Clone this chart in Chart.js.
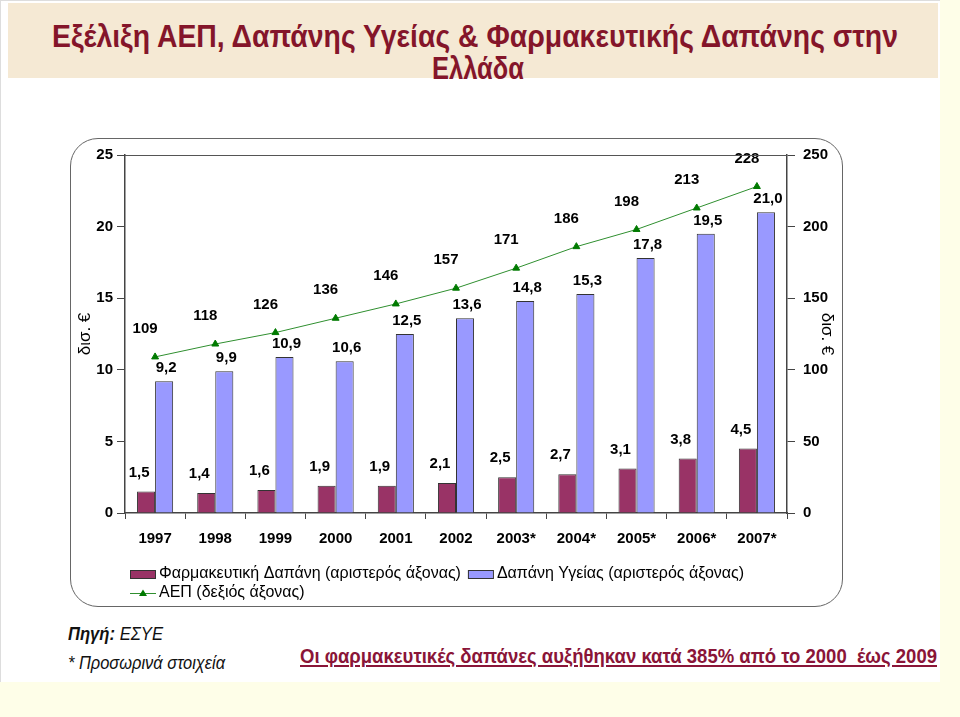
<!DOCTYPE html>
<html>
<head>
<meta charset="utf-8">
<script src="https://cdn.jsdelivr.net/npm/chart.js@4.4.1/dist/chart.umd.min.js"></script>
<style>
  body { margin: 0; background: #fefee8; font-family: 'Liberation Sans', Arial, sans-serif; }
  #page { position: relative; width: 960px; height: 717px; overflow: hidden; }
  #sheet { position: absolute; left: 0; top: 0; width: 940px; height: 682px; background: #fff; border-left: 1px solid #ddd; border-top: 1px solid #ddd; box-sizing: border-box; }
  #band { position: absolute; left: 8px; top: 3px; width: 930px; height: 75px; background: #f5e9d4; }
  .t { position: absolute; white-space: nowrap; transform-origin: 0 50%; }
  .title { color: #84152a; font-weight: bold; font-size: 32px; }
  #box { position: absolute; left: 70px; top: 138px; width: 773px; height: 469px; border: 1.5px solid #666; border-radius: 28px; box-sizing: border-box; background: #fff; }
  #wrap { position: absolute; left: 70px; top: 138px; width: 773px; height: 469px; }
  .note { font-style: italic; font-size: 18px; color: #111; }
  #claim { color: #8a1538; font-weight: bold; font-size: 21px; text-decoration: underline; }
</style>
</head>
<body>
<div id="page">
  <div id="sheet"></div>
  <div id="band"></div>
  <div class="t title" id="t1" style="left:52px; top:18px;">Εξέλιξη ΑΕΠ, Δαπάνης Υγείας &amp; Φαρμακευτικής Δαπάνης στην</div>
  <div class="t title" id="t2" style="left:432px; top:50px;">Ελλάδα</div>
  <div id="box"></div>
  <div id="wrap"><canvas id="c"></canvas></div>
  <div class="t note" id="src" style="left:68px; top:624px;"><b>Πηγή:</b> ΕΣΥΕ</div>
  <div class="t note" id="prov" style="left:68px; top:653px;">* Προσωρινά στοιχεία</div>
  <div class="t" id="claim" style="left:300px; top:644px;">Οι φαρμακευτικές δαπάνες αυξήθηκαν κατά 385% από το 2000&nbsp; έως 2009</div>
</div>
<script>
// squeeze a text line to the width it has in the picture
function fit(id, w) {
  const el = document.getElementById(id);
  const real = el.getBoundingClientRect().width;
  el.style.transform = 'scaleX(' + (w / real) + ')';
}
fit('t1', 846);
fit('t2', 92);
fit('src', 95);
fit('prov', 157);
fit('claim', 637);

const years = ['1997', '1998', '1999', '2000', '2001', '2002', '2003*', '2004*', '2005*', '2006*', '2007*'];
const pharma = [1.5, 1.4, 1.6, 1.9, 1.9, 2.1, 2.5, 2.7, 3.1, 3.8, 4.5];
const health = [9.2, 9.9, 10.9, 10.6, 12.5, 13.6, 14.8, 15.3, 17.8, 19.5, 21.0];
const gdp = [109, 118, 126, 136, 146, 157, 171, 186, 198, 213, 228];
const leftTicks = [0, 5, 10, 15, 20, 25];
const rightTicks = [0, 50, 100, 150, 200, 250];

const FONT = "'Liberation Sans', Arial, sans-serif";
const MAROON = '#993366';
const BLUE = '#9999ff';
const GREEN = '#2f8f2f';

const labelOffsets = [[-7, -19], [2, -13], [-10, -28]];

const valueLabels = {
  id: 'valueLabels',
  afterDatasetsDraw(chart) {
    const ctx = chart.ctx;
    ctx.save();
    ctx.font = 'bold 15px ' + FONT;
    ctx.fillStyle = '#000';
    ctx.textAlign = 'center';
    ctx.textBaseline = 'middle';
    chart.data.datasets.forEach((ds, i) => {
      const meta = chart.getDatasetMeta(i);
      const [dx, dy] = labelOffsets[i];
      meta.data.forEach((el, j) => {
        const v = ds.data[j];
        const txt = ds.type === 'line' ? String(v) : v.toFixed(1).replace('.', ',');
        ctx.fillText(txt, el.x + dx, el.y + dy);
      });
    });
    ctx.restore();
  }
};

const frameAndLegend = {
  id: 'frameAndLegend',
  afterDraw(chart) {
    const ctx = chart.ctx;
    const a = chart.chartArea;
    ctx.save();
    ctx.strokeStyle = '#555';
    ctx.lineWidth = 1;
    ctx.beginPath();
    ctx.moveTo(a.left, a.top + 0.5);
    ctx.lineTo(a.right, a.top + 0.5);
    ctx.stroke();

    // legend
    ctx.font = '16px ' + FONT;
    ctx.textBaseline = 'middle';
    ctx.textAlign = 'left';
    const items = chart.data.datasets;
    let x = 60, y = 436;
    [0, 1].forEach(k => {
      ctx.fillStyle = items[k].backgroundColor;
      ctx.fillRect(x, y - 4, 25, 8);
      ctx.strokeStyle = '#333';
      ctx.strokeRect(x + 0.5, y - 3.5, 25, 8);
      ctx.fillStyle = '#000';
      ctx.fillText(items[k].label, x + 29, y);
      x += 29 + ctx.measureText(items[k].label).width + 7;
    });
    x = 60; y = 455;
    ctx.strokeStyle = GREEN;
    ctx.beginPath();
    ctx.moveTo(x, y + 0.5);
    ctx.lineTo(x + 26, y + 0.5);
    ctx.stroke();
    ctx.fillStyle = '#007a00';
    ctx.beginPath();
    ctx.moveTo(x + 13, y - 3.5);
    ctx.lineTo(x + 17, y + 3);
    ctx.lineTo(x + 9, y + 3);
    ctx.closePath();
    ctx.fill();
    ctx.fillStyle = '#000';
    ctx.fillText(items[2].label, x + 29, y);
    ctx.restore();
  }
};

new Chart(document.getElementById('c'), {
  type: 'bar',
  data: {
    labels: years,
    datasets: [
      { label: 'Φαρμακευτική Δαπάνη (αριστερός άξονας)', data: pharma, backgroundColor: MAROON, borderColor: '#333', borderWidth: 1, yAxisID: 'y', order: 2, barPercentage: 1, categoryPercentage: 0.6 },
      { label: 'Δαπάνη Υγείας (αριστερός άξονας)', data: health, backgroundColor: BLUE, borderColor: '#333', borderWidth: 1, yAxisID: 'y', order: 2, barPercentage: 1, categoryPercentage: 0.6 },
      { type: 'line', label: 'ΑΕΠ (δεξιός άξονας)', data: gdp, borderColor: GREEN, borderWidth: 1, pointStyle: 'triangle', pointRadius: 4, pointBackgroundColor: '#007a00', pointBorderColor: '#007a00', yAxisID: 'y1', order: 1 }
    ]
  },
  options: {
    responsive: true,
    maintainAspectRatio: false,
    animation: false,
    layout: { padding: { top: 15, left: 0, right: 0, bottom: 0 } },
    plugins: { legend: { display: false }, tooltip: { enabled: false } },
    scales: {
      x: {
        grid: { drawOnChartArea: false, tickLength: 6, color: '#444', offset: true },
        border: { color: '#444', width: 1.5 },
        ticks: { color: '#000', font: { family: FONT, size: 15, weight: 'bold' }, padding: 11 },
        afterFit(s) { s.height = 94; }
      },
      y: {
        position: 'left', min: 0, max: 25,
        afterBuildTicks(s) { s.ticks = leftTicks.map(v => ({ value: v })); },
        grid: { drawOnChartArea: false, tickLength: 8, color: '#444' },
        border: { color: '#444', width: 1.5 },
        ticks: { color: '#000', font: { family: FONT, size: 15, weight: 'bold' }, padding: 4 },
        title: { display: true, text: 'δισ. €', color: '#000', font: { family: FONT, size: 17 }, padding: { top: 5, bottom: 0 } },
        afterFit(s) { s.width = 55; }
      },
      y1: {
        position: 'right', min: 0, max: 250,
        afterBuildTicks(s) { s.ticks = rightTicks.map(v => ({ value: v })); },
        grid: { drawOnChartArea: false, tickLength: 8, color: '#444' },
        border: { color: '#444', width: 1.5 },
        ticks: { color: '#000', font: { family: FONT, size: 15, weight: 'bold' }, padding: 8 },
        title: { display: true, text: 'δισ. €', color: '#000', font: { family: FONT, size: 17 }, padding: { top: 6, bottom: 0 } },
        afterFit(s) { s.width = 56; }
      }
    }
  },
  plugins: [valueLabels, frameAndLegend]
});
</script>
</body>
</html>
